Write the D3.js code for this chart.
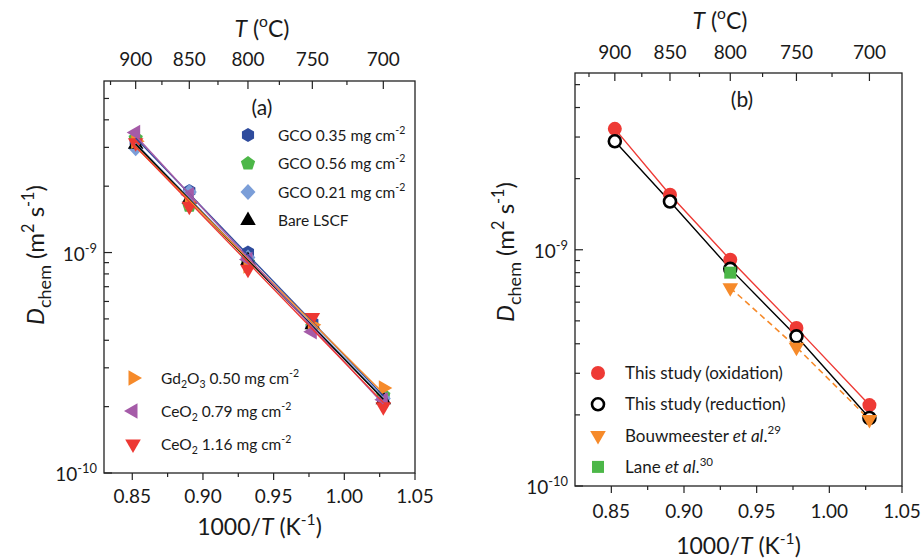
<!DOCTYPE html>
<html><head><meta charset="utf-8">
<script src="https://cdn.jsdelivr.net/npm/d3@7"></script>
<style>body{margin:0;background:#fff}svg{display:block}text{font-family:Lato,"Open Sans",sans-serif;fill:#1a1a1a}</style>
</head><body><svg id="c" width="922" height="558"></svg>
<script>
// ---------------- data ----------------
const tempsC = [900, 850, 800, 750, 700];
const topMajorC = [900, 850, 800, 750, 700];
const topMinorC = [925, 875, 825, 775, 725];
const bottomMajor = [0.85, 0.90, 0.95, 1.00, 1.05];
const bottomMinor = [0.875, 0.925, 0.975, 1.025];
const yMajor = [1e-10, 1e-9];
const yMajorLabels = ["-10", "-9"];

// panel (a) values in units of 1e-9 m2/s at tempsC
const gco035 = [3.2, 1.9, 1.0, 0.48, 0.222];
const gco056 = [3.3, 1.63, 0.9, 0.46, 0.225];
const gco021 = [2.97, 1.88, 0.95, 0.46, 0.218];
const bareLSCF = [3.1, 1.75, 0.92, 0.47, 0.215];
const gd2o3 = [3.2, 1.7, 0.87, 0.47, 0.243];
const ceo2_079 = [3.5, 1.83, 0.93, 0.437, 0.215];
const ceo2_116 = [3.15, 1.62, 0.84, 0.507, 0.2];

// panel (b)
const oxidation = [3.25, 1.71, 0.907, 0.467, 0.22];
const reduction = [2.88, 1.6, 0.83, 0.43, 0.194];
const bouwTempsC = [800, 750, 700];
const bouwmeester = [0.69, 0.387, 0.191];
const laneTempsC = [800];
const lane = [0.8];

// ---------------- helpers ----------------
const svg = d3.select("#c");
const invT = c => 1000 / (c + 273.15);

function rich(sel, parts, fs, subScale) {
  let cur = 0;
  parts.forEach(p => {
    const want = p.sup ? -0.42 * fs : p.sub ? 0.3 * fs : 0;
    const sc = p.sub && subScale ? subScale : 0.68;
    const t = sel.append("tspan").text(p.t).attr("dy", want - cur)
      .attr("font-size", (p.sup || p.sub) ? fs * sc : fs);
    if (p.it) t.attr("font-style", "italic");
    cur = want;
  });
  return sel;
}
function poly(n, r, a0) {
  const pts = d3.range(n).map(i => {
    const a = (a0 + i * 360 / n) * Math.PI / 180;
    return [r * Math.cos(a), r * Math.sin(a)];
  });
  return "M" + pts.map(p => p.join(",")).join("L") + "Z";
}
const shapes = {
  hex: () => poly(6, 7, -90),
  pent: () => poly(5, 7.5, -90),
  diamond: () => "M0,-8L7.5,0L0,8L-7.5,0Z",
  up: () => poly(3, 9, -90),
  down: () => poly(3, 9, 90),
  right: () => poly(3, 9, 0),
  left: () => poly(3, 9, 180),
  circle: () => d3.symbol(d3.symbolCircle, Math.PI * 49)(),
  ocircle: () => d3.symbol(d3.symbolCircle, Math.PI * 36)(),
  square: () => "M-6,-6H6V6H-6Z"
};

function panel(cfg) {
  const x = d3.scaleLinear().domain(cfg.xd).range([cfg.l, cfg.r]);
  const y = d3.scaleLog().domain(cfg.yd).range([cfg.b, cfg.t]);
  const g = svg.append("g");
  const tick = (x1, y1, x2, y2) => g.append("line").attr("x1", x1).attr("y1", y1).attr("x2", x2).attr("y2", y2)
    .attr("stroke", "#222").attr("stroke-width", 1.2);
  // bottom (outward)
  bottomMajor.forEach(v => {
    tick(x(v), cfg.b, x(v), cfg.b + 7);
    g.append("text").attr("x", x(v)).attr("y", cfg.b + cfg.bl).attr("text-anchor", "middle")
      .attr("font-size", 19).text(d3.format(".2f")(v));
  });
  bottomMinor.forEach(v => tick(x(v), cfg.b, x(v), cfg.b + 4));
  // top (inward)
  topMajorC.forEach(c => {
    tick(x(invT(c)), cfg.t, x(invT(c)), cfg.t + 8);
    g.append("text").attr("x", x(invT(c))).attr("y", cfg.t - cfg.tl).attr("text-anchor", "middle")
      .attr("font-size", 19).text(c);
  });
  topMinorC.forEach(c => { const xv = x(invT(c)); if (xv > cfg.l + 1) tick(xv, cfg.t, xv, cfg.t + 4); });
  // left (inward)
  const minors = [];
  [1e-10, 1e-9].forEach(d => d3.range(2, 10).forEach(k => { const v = k * d; if (v < cfg.yd[1]) minors.push(v); }));
  minors.forEach(v => tick(cfg.l, y(v), cfg.l + 5, y(v)));
  yMajor.forEach((v, i) => {
    tick(cfg.l, y(v), cfg.l + 8, y(v));
    rich(g.append("text").attr("x", cfg.l - 7).attr("y", y(v) + 8).attr("text-anchor", "end"),
      [{ t: "10" }, { t: yMajorLabels[i], sup: true }], 19);
  });
  // frame
  g.append("rect").attr("x", cfg.l).attr("y", cfg.t).attr("width", cfg.r - cfg.l).attr("height", cfg.b - cfg.t)
    .attr("fill", "none").attr("stroke", "#222").attr("stroke-width", 1.3);
  // titles
  rich(g.append("text").attr("x", (cfg.l + cfg.r) / 2).attr("y", cfg.b + cfg.bt).attr("text-anchor", "middle"),
    [{ t: "1000/" }, { t: "T", it: true }, { t: " (K" }, { t: "-1", sup: true }, { t: ")" }], 23);
  rich(g.append("text").attr("x", cfg.ttx).attr("y", cfg.t - cfg.tt).attr("text-anchor", "middle"),
    [{ t: "T", it: true }, { t: " (" }, { t: "o", sup: true }, { t: "C)" }], 23);
  rich(g.append("text").attr("transform", `translate(${cfg.ytx},${cfg.yty}) rotate(-90)`).attr("text-anchor", "middle"),
    [{ t: "D", it: true }, { t: "chem", sub: true }, { t: " (m" }, { t: "2", sup: true }, { t: " s" }, { t: "-1", sup: true }, { t: ")" }], 24, 0.75);
  g.append("text").attr("x", cfg.lab[0]).attr("y", cfg.lab[1]).attr("text-anchor", "middle").attr("font-size", 21).text(cfg.label);
  return { g, x, y };
}

function marker(g, shape, cx, cy, fill, stroke, sw) {
  g.append("path").attr("d", shapes[shape]()).attr("transform", `translate(${cx},${cy})`)
    .attr("fill", fill).attr("stroke", stroke || "none").attr("stroke-width", sw || 0);
}

// ---------------- panel (a) ----------------
const A = panel({ l: 104, r: 415, t: 81, b: 473, xd: [0.83, 1.05], yd: [1e-10, 6e-9], bl: 30, bt: 62, tl: 15, tt: 44,
  ttx: 262, ytx: 44, yty: 255, lab: [262, 115], label: "(a)" });

const seriesA = [
  { v: gco035, c: "#2e4b9d", s: "hex" },
  { v: gco056, c: "#4cb748", s: "pent" },
  { v: gco021, c: "#7b9ed8", s: "diamond" },
  { v: bareLSCF, c: "#000000", s: "up" },
  { v: gd2o3, c: "#f68a2a", s: "right" },
  { v: ceo2_079, c: "#a55ba8", s: "left" },
  { v: ceo2_116, c: "#ed3833", s: "down" }
];
seriesA.forEach(sr => sr.v.forEach((d, i) => marker(A.g, sr.s, A.x(invT(tempsC[i])), A.y(d * 1e-9), sr.c)));
// fit lines (least squares on log10 D vs 1000/T)
seriesA.forEach(sr => {
  const xs = tempsC.map(invT), ys = sr.v.map(d => Math.log10(d * 1e-9));
  const mx = d3.mean(xs), my = d3.mean(ys);
  const b = d3.sum(xs.map((xv, i) => (xv - mx) * (ys[i] - my))) / d3.sum(xs.map(xv => (xv - mx) ** 2));
  const a = my - b * mx;
  const x0 = d3.min(xs), x1 = d3.max(xs);
  A.g.append("line").attr("x1", A.x(x0)).attr("y1", A.y(10 ** (a + b * x0)))
    .attr("x2", A.x(x1)).attr("y2", A.y(10 ** (a + b * x1))).attr("stroke", sr.c).attr("stroke-width", 1.4);
});
// legend (a)
const legA1 = [
  { s: "hex", c: "#2e4b9d", parts: [{ t: "GCO 0.35 mg cm" }, { t: "-2", sup: true }] },
  { s: "pent", c: "#4cb748", parts: [{ t: "GCO 0.56 mg cm" }, { t: "-2", sup: true }] },
  { s: "diamond", c: "#7b9ed8", parts: [{ t: "GCO 0.21 mg cm" }, { t: "-2", sup: true }] },
  { s: "up", c: "#000000", parts: [{ t: "Bare LSCF" }] }
];
legA1.forEach((it, i) => {
  const yy = 135 + i * 28.5;
  marker(A.g, it.s, 248, yy, it.c);
  rich(A.g.append("text").attr("x", 278).attr("y", yy + 5.5), it.parts, 15.5);
});
const legA2 = [
  { s: "right", c: "#f68a2a", parts: [{ t: "Gd" }, { t: "2", sub: true }, { t: "O" }, { t: "3", sub: true }, { t: " 0.50 mg cm" }, { t: "-2", sup: true }] },
  { s: "left", c: "#a55ba8", parts: [{ t: "CeO" }, { t: "2", sub: true }, { t: " 0.79 mg cm" }, { t: "-2", sup: true }] },
  { s: "down", c: "#ed3833", parts: [{ t: "CeO" }, { t: "2", sub: true }, { t: " 1.16 mg cm" }, { t: "-2", sup: true }] }
];
legA2.forEach((it, i) => {
  const yy = 378 + i * 33;
  marker(A.g, it.s, 133, yy, it.c);
  rich(A.g.append("text").attr("x", 161).attr("y", yy + 5.5), it.parts, 15.5);
});

// ---------------- panel (b) ----------------
const B = panel({ l: 575, r: 902, t: 73, b: 486, xd: [0.825, 1.05], yd: [1e-10, 5.6e-9], bl: 32, bt: 68, tl: 14, tt: 44,
  ttx: 720, ytx: 514, yty: 252, lab: [742, 107], label: "(b)" });
const lineB = d3.line().x(d => B.x(invT(d[0]))).y(d => B.y(d[1] * 1e-9));
B.g.append("path").attr("d", lineB(tempsC.map((t, i) => [t, oxidation[i]]))).attr("fill", "none").attr("stroke", "#ee3a35").attr("stroke-width", 1.4);
B.g.append("path").attr("d", lineB(tempsC.map((t, i) => [t, reduction[i]]))).attr("fill", "none").attr("stroke", "#000").attr("stroke-width", 1.4);
B.g.append("path").attr("d", lineB(bouwTempsC.map((t, i) => [t, bouwmeester[i]]))).attr("fill", "none").attr("stroke", "#f68a2a").attr("stroke-width", 1.6).attr("stroke-dasharray", "6,4");
oxidation.forEach((d, i) => marker(B.g, "circle", B.x(invT(tempsC[i])), B.y(d * 1e-9), "#ee3a35"));
reduction.forEach((d, i) => marker(B.g, "ocircle", B.x(invT(tempsC[i])), B.y(d * 1e-9), "#fff", "#000", 2.6));
bouwmeester.forEach((d, i) => marker(B.g, "down", B.x(invT(bouwTempsC[i])), B.y(d * 1e-9), "#f68a2a"));
lane.forEach((d, i) => marker(B.g, "square", B.x(invT(laneTempsC[i])), B.y(d * 1e-9), "#4cb748"));
const legB = [
  { s: "circle", c: "#ee3a35", parts: [{ t: "This study (oxidation)" }] },
  { s: "ocircle", c: "#fff", st: "#000", parts: [{ t: "This study (reduction)" }] },
  { s: "down", c: "#f68a2a", parts: [{ t: "Bouwmeester " }, { t: "et al", it: true }, { t: "." }, { t: "29", sup: true }] },
  { s: "square", c: "#4cb748", parts: [{ t: "Lane " }, { t: "et al", it: true }, { t: "." }, { t: "30", sup: true }] }
];
legB.forEach((it, i) => {
  const yy = 373 + i * 31.3;
  marker(B.g, it.s, 598, yy, it.c, it.st, it.st ? 2.6 : 0);
  rich(B.g.append("text").attr("x", 625).attr("y", yy + 6), it.parts, 17);
});
</script></body></html>
